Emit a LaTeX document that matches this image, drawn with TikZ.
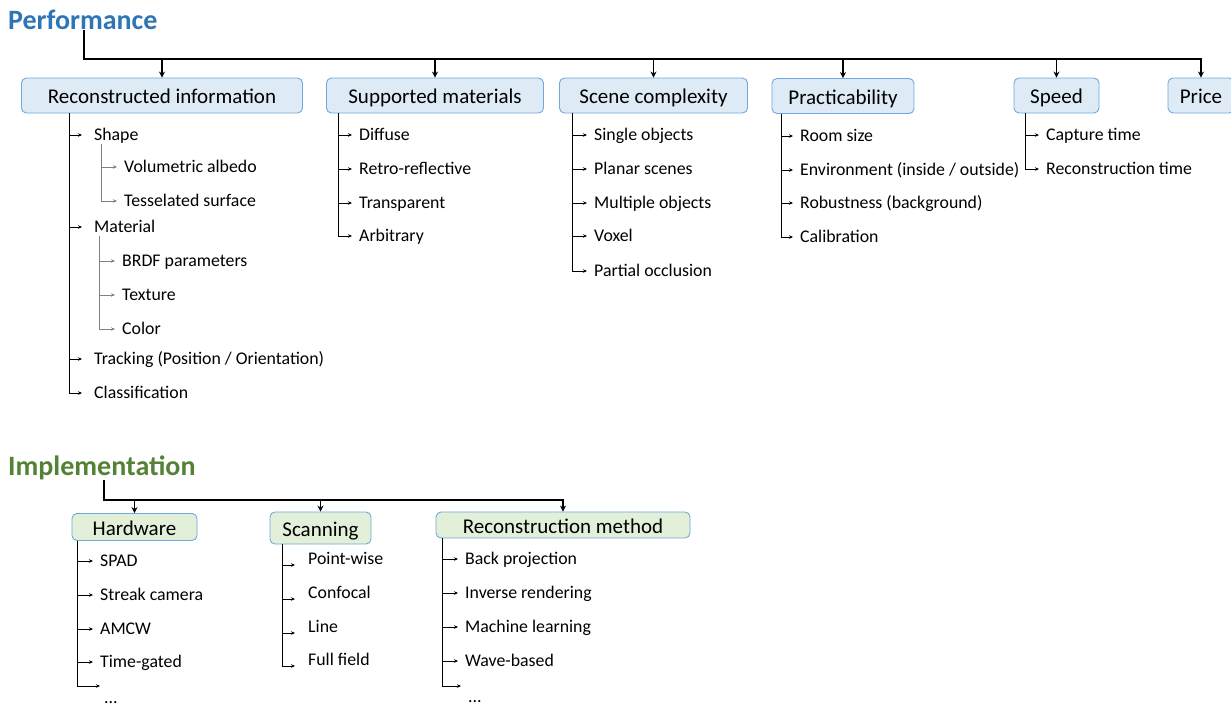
\documentclass[tikz,border=0pt]{standalone}
\usepackage{fontspec}
\setmainfont{Carlito}
\usetikzlibrary{arrows.meta}
\definecolor{perfblue}{HTML}{2E75B6}
\definecolor{implgreen}{HTML}{548235}
\definecolor{boxline}{HTML}{6FA8DC}
\definecolor{bluefill}{HTML}{DEEBF7}
\definecolor{greenfill}{HTML}{E2F0D9}
\begin{document}
\begin{tikzpicture}[x=1pt,y=-1pt,
  box/.style={draw=boxline, fill=#1, rounded corners=5pt, line width=0.9pt, inner sep=0pt, text height=16pt, text depth=0pt, font=\fontsize{21}{24}\selectfont},
  title/.style={anchor=west, inner sep=0pt, font=\fontsize{28}{32}\selectfont\bfseries},
  item/.style={anchor=west, inner sep=0pt, text height=14.5pt, text depth=3pt, font=\fontsize{17.8}{20}\selectfont},
  trunkarrow/.style={line width=1.8pt, -{Stealth[length=6pt,width=6pt]}},
  branch/.style={line width=0.8pt, -{Stealth[length=4pt,width=3.5pt]}, shorten >=7pt},
  subbranch/.style={branch, draw=gray},
]
\path[use as bounding box] (0,0) rectangle (1231,707);

% ---------------- Performance ----------------
\node[title, text=perfblue] (perf) at (8,20) {Performance};

\node[box=bluefill, minimum width=281pt, minimum height=35pt] (ri) at (162,95.5) {Reconstructed information};
\node[box=bluefill, minimum width=217pt, minimum height=35pt] (sm) at (435,95.5) {Supported materials};
\node[box=bluefill, minimum width=188pt, minimum height=35pt] (sc) at (653.5,95.5) {Scene complexity};
\node[box=bluefill, minimum width=142pt, minimum height=35pt] (pa) at (843,96) {Practicability};
\node[box=bluefill, minimum width=85pt, minimum height=35pt] (sp) at (1056.5,95.5) {Speed};
\node[box=bluefill, minimum width=66pt, minimum height=35pt] (pr) at (1201,95.5) {Price};

\draw[trunkarrow] (perf.south -| 84,0) -- (84,59) -| (pr.north);
\foreach \n in {ri,sm,sc,pa,sp}{
  \draw[trunkarrow] (\n.north |- 0,59) -- (\n.north);
}

% Reconstructed information
\node[item] (shape) at (94,135) {Shape};
\node[item] (vol) at (124,167) {Volumetric albedo};
\node[item] (tess) at (124,201) {Tesselated surface};
\node[item] (mat) at (94,227) {Material};
\node[item] (brdf) at (122,261) {BRDF parameters};
\node[item] (tex) at (122,295) {Texture};
\node[item] (col) at (122,329) {Color};
\node[item] (trk) at (94,359) {Tracking (Position / Orientation)};
\node[item] (cls) at (94,393) {Classification};
\foreach \n in {shape,mat,trk,cls}{
  \draw[branch, shorten >=12pt] (ri.south -| 69,0) |- (\n);
}
\foreach \n in {vol,tess}{
  \draw[subbranch] (shape.south -| 101,0) |- (\n);
}
\foreach \n in {brdf,tex,col}{
  \draw[subbranch] (mat.south -| 99,0) |- (\n);
}

% Supported materials
\node[item] (dif) at (359,135) {Diffuse};
\node[item] (ret) at (359,169) {Retro-reflective};
\node[item] (tra) at (359,203) {Transparent};
\node[item] (arb) at (359,236) {Arbitrary};
\foreach \n in {dif,ret,tra,arb}{
  \draw[branch] (sm.south -| 338,0) |- (\n);
}

% Scene complexity
\node[item] (sin) at (594,135) {Single objects};
\node[item] (pla) at (594,169) {Planar scenes};
\node[item] (mul) at (594,203) {Multiple objects};
\node[item] (vox) at (594,236) {Voxel};
\node[item] (occ) at (594,271) {Partial occlusion};
\foreach \n in {sin,pla,mul,vox,occ}{
  \draw[branch] (sc.south -| 572,0) |- (\n);
}

% Practicability
\node[item] (room) at (800,136) {Room size};
\node[item] (env) at (800,170) {Environment (inside / outside)};
\node[item] (rob) at (800,203) {Robustness (background)};
\node[item] (cal) at (800,237) {Calibration};
\foreach \n in {room,env,rob,cal}{
  \draw[branch] (pa.south -| 781,0) |- (\n);
}

% Speed
\node[item] (cap) at (1046,135) {Capture time};
\node[item] (rect) at (1046,169) {Reconstruction time};
\foreach \n in {cap,rect}{
  \draw[branch] (sp.south -| 1025,0) |- (\n);
}

% ---------------- Implementation ----------------
\node[title, text=implgreen] (impl) at (8,468) {Implementation};

\node[box=greenfill, minimum width=125pt, minimum height=27pt] (hw) at (134.5,527) {Hardware};
\node[box=greenfill, minimum width=101pt, minimum height=32pt] (scn) at (320.5,528) {Scanning};
\node[box=greenfill, minimum width=254pt, minimum height=26pt] (rm) at (563,525) {Reconstruction method};

\draw[trunkarrow] (impl.south -| 104,0) -- (104,500) -| (rm.north);
\foreach \n in {hw,scn}{
  \draw[trunkarrow] (\n.north |- 0,500) -- (\n.north);
}

% Hardware
\node[item] (spad) at (100,561) {SPAD};
\node[item] (str) at (100,595) {Streak camera};
\node[item] (amcw) at (100,629) {AMCW};
\node[item] (tg) at (100,662) {Time-gated};
\node[item] (hdots) at (104,698) {...};
\foreach \n in {spad,str,amcw,tg}{
  \draw[branch] (hw.south -| 77,0) |- (\n);
}
\draw[branch, shorten >=0pt] (hw.south -| 77,0) |- ([xshift=-4pt]hdots.north west |- 0,686);

% Scanning
\node[item] (pw) at (308,559) {Point-wise};
\node[item] (conf) at (308,593) {Confocal};
\node[item] (line) at (308,627) {Line};
\node[item] (ff) at (308,660) {Full field};
\foreach \n in {pw,conf,line,ff}{
  \draw[branch, shorten >=0pt] (scn.south -| 282,0) |- ([xshift=-13pt,yshift=-6pt]\n.west);
}

% Reconstruction method
\node[item] (bp) at (465,559) {Back projection};
\node[item] (ir) at (465,593) {Inverse rendering};
\node[item] (ml) at (465,627) {Machine learning};
\node[item] (wb) at (465,661) {Wave-based};
\node[item] (rdots) at (468,697) {...};
\foreach \n in {bp,ir,ml,wb}{
  \draw[branch] (rm.south -| 442,0) |- (\n);
}
\draw[branch, shorten >=0pt] (rm.south -| 442,0) |- ([xshift=-7pt]rdots.north west |- 0,686);
\end{tikzpicture}
\end{document}
